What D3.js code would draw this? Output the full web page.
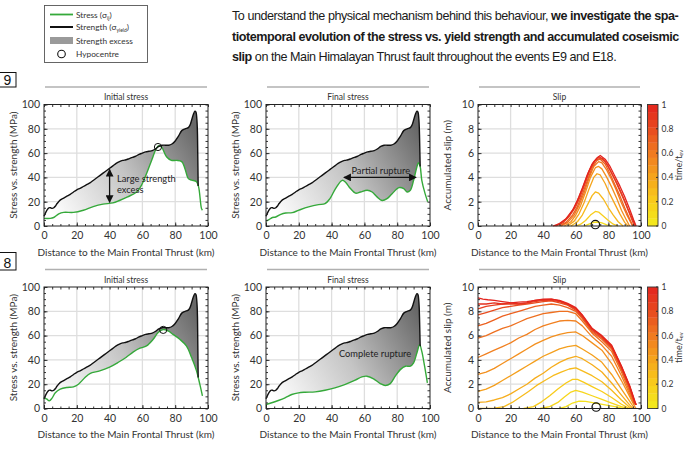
<!DOCTYPE html>
<html><head><meta charset="utf-8">
<script src="https://cdn.jsdelivr.net/npm/d3@7"></script>
<style>body{margin:0;background:#fff}svg{display:block}</style>
</head><body><svg id="c" width="685" height="456"></svg>
<script>
// ---------- DATA ----------
const xTicks = [0, 20, 40, 60, 80, 100];
const stressTicks = [0, 20, 40, 60, 80, 100];
const slipTicks = [0, 2, 4, 6, 8, 10];
const cbTicks = [0, 0.2, 0.4, 0.6, 0.8, 1];
// event tags: only their last character is visible inside the cropped reference figure
const eventTags = ["9", "8"];

const strengthX = [0,1,2,3,4,5,6,7,8,10,12,14,16,18,20,22,24,26,28,30,32,34,36,38,40,42,44,46,48,50,52,54,56,58,60,62,64,66,68,70,72,74,76,78,80,82,84,86,88,89,90,91,92,92.6,93.2,93.6];
const strengthY = [8,11,13.5,15,15,14.5,15,16.5,18.5,21.5,23,24.5,26,28,29.8,31,32.5,34,35.5,37.5,39.5,41.5,43.5,45.5,47.5,49.5,51.5,53,54,54.5,55.5,56.5,57.5,59,60,61,61.5,62,63.5,65.5,66.5,66.5,66.5,67.5,70,74,78.5,80,81,83,87,91.5,94.5,94,88,75];
const strengthDropX = 94;

const e9InitX  = [0,3.8,5.9,9,12,18,24,30,36,42,46,51,56.5,59.5,62.5,65.6,68.6,70,71.7,74.7,77.7,80.8,84,86,88,90,93,94.3,96,96.6];
const e9InitY  = [6.3,6.3,7,10,11.2,11.2,13,16,18,19,21,24,28,33.7,43,54,64,66,65,57,54,54,53,47,39,37.8,36.4,32,14.5,13];
const e9FinalX = [0,1.8,3.9,5.9,9,12,16,20,26,32,36,39,42.4,46.5,48.5,51.5,54.6,57.6,61.7,64.7,67.7,70.8,73.8,76.9,81,84,86,88,90,92,93,94,95,97,98.6];
const e9FinalY = [4,5.2,7,7.4,9.6,10.7,11,13,15.7,17.6,18.4,22.5,30.8,37.6,36,30.8,27,28,29.4,28,24,21,22.5,26.6,31.6,30.8,28,29.4,37.6,48.6,52,49,37.6,26.6,20];
const e18InitX = [0,1.8,3.2,4.9,6.9,9.9,14,18,21,25,28,34,40,45,50,54.5,58.5,62.5,66.6,69.6,72.7,75.7,78.7,82.8,86.8,90,93,95,96.6];
const e18InitY = [9,7.7,6.3,8.5,13,15.9,17.3,17.8,20,25.5,28.8,31,34,37.8,42,46.6,49.6,51.5,57,62.5,65,63.8,61,57,51.5,42,31,20,10.4];
const e18FinalX = [0,3.5,7.5,11.6,15.7,19.8,23.8,30,36,42,48,54.4,58.5,61.5,65.6,69.7,72.7,75.8,78.8,81.9,85,88,90,92,93.7,95,96.7,98.4];
const e18FinalY = [3.3,4.7,6.6,8.8,11.5,12.9,13.4,13.7,15,17,19.7,23.3,26,26.6,24.4,20.5,18.9,20.5,26.6,32,34.8,34.8,37.5,45.7,52.6,47,34.8,21];

const e9Hypo = [69.5, 65];
const e18Hypo = [72.7, 64.7];
const slipHypoX = [72, 72.5];

const e9SlipTimes = [0.1,0.2,0.3,0.4,0.5,0.6,0.7,0.8,0.9,1.0];
const e9SlipCurves = [
 [[65,0],[68,0.15],[71,0.3],[73,0.33],[76,0.25],[79,0.1],[82,0]],
 [[60,0],[63,0.15],[66,0.45],[69,0.9],[72,1.2],[74,1.15],[77,0.8],[80,0.45],[83,0.15],[86,0]],
 [[57,0],[61,0.35],[64,0.9],[67,1.7],[70,2.5],[72,2.8],[74,2.7],[77,2.2],[80,1.5],[83,0.9],[86,0.35],[89,0]],
 [[55,0],[59,0.4],[62,1.0],[65,1.9],[68,3.0],[71,4.0],[73,4.3],[75,4.2],[78,3.5],[81,2.6],[84,1.8],[87,1.0],[90,0.3],[92,0]],
 [[53,0],[57,0.35],[60,0.9],[63,1.7],[66,2.8],[69,4.0],[72,4.8],[74,4.9],[76,4.7],[79,4.0],[82,3.2],[85,2.3],[88,1.3],[91,0.5],[93,0]],
 [[51,0],[55,0.3],[59,0.9],[62,1.7],[65,2.7],[68,3.9],[71,4.9],[74,5.3],[76,5.2],[79,4.6],[82,3.8],[85,2.9],[88,1.9],[91,1.0],[94,0.2],[95,0]],
 [[50,0],[54,0.3],[58,0.9],[61,1.6],[64,2.6],[67,3.7],[70,4.8],[73,5.4],[75,5.5],[78,5.1],[81,4.3],[84,3.4],[87,2.5],[90,1.5],[93,0.6],[95,0]],
 [[48,0],[52,0.25],[56,0.8],[60,1.6],[63,2.5],[66,3.6],[69,4.7],[72,5.4],[75,5.6],[78,5.3],[81,4.6],[84,3.8],[87,2.9],[90,2.0],[93,1.0],[95,0.3],[96,0]],
 [[47,0],[51,0.25],[55,0.7],[59,1.5],[62,2.4],[65,3.4],[68,4.5],[71,5.3],[74,5.7],[77,5.5],[80,4.9],[83,4.1],[86,3.3],[89,2.4],[92,1.4],[95,0.5],[96.5,0]],
 [[46,0],[50,0.2],[54,0.6],[58,1.3],[61,2.1],[64,3.1],[67,4.2],[70,5.1],[73,5.6],[75,5.8],[78,5.5],[81,4.9],[84,4.1],[87,3.3],[90,2.4],[93,1.4],[95.5,0.5],[97,0]]
];

const e18SlipTimes = [0.07,0.14,0.21,0.29,0.36,0.43,0.5,0.57,0.64,0.71,0.79,0.86,0.93,1.0];
const e18SlipCurves = [
 [[50,0],[54,0.15],[58,0.45],[62,0.6],[66,0.58],[72,0.45],[78,0.3],[84,0.15],[89,0]],
 [[38,0],[44,0.15],[49,0.5],[53,0.95],[57,1.35],[60,1.5],[64,1.35],[70,1.05],[76,0.75],[82,0.45],[88,0.15],[92,0]],
 [[28,0],[34,0.15],[39,0.55],[44,1.05],[49,1.6],[54,2.1],[58,2.4],[61,2.4],[65,2.15],[70,1.8],[76,1.4],[82,0.9],[88,0.35],[93,0]],
 [[0,0],[10,0.03],[16,0.15],[21,0.5],[26,0.95],[31,1.4],[36,1.9],[41,2.3],[46,2.7],[51,3.0],[56,3.25],[60,3.35],[64,3.1],[70,2.7],[76,2.2],[82,1.5],[88,0.7],[93,0.1],[94,0]],
 [[0,0.5],[5,0.55],[10,0.7],[15,0.9],[20,1.2],[25,1.6],[30,2.0],[35,2.5],[40,2.9],[45,3.4],[50,3.8],[55,4.1],[60,4.3],[64,4.1],[70,3.6],[76,3.0],[82,2.1],[88,1.1],[93,0.3],[95,0]],
 [[0,1.4],[5,1.6],[10,1.9],[15,2.3],[20,2.7],[25,3.1],[30,3.5],[35,3.9],[40,4.3],[45,4.6],[50,4.9],[55,5.1],[60,5.2],[64,4.9],[70,4.4],[76,3.8],[82,2.8],[88,1.6],[93,0.6],[96,0]],
 [[0,2.8],[5,3.0],[10,3.3],[15,3.7],[20,4.1],[25,4.5],[30,4.9],[35,5.3],[40,5.6],[45,5.9],[50,6.1],[55,6.25],[60,6.3],[64,6.0],[70,5.4],[76,4.8],[82,3.7],[88,2.3],[93,1.0],[96,0.2],[97,0]],
 [[0,4.2],[5,4.5],[10,4.8],[15,5.1],[20,5.4],[25,5.8],[30,6.1],[35,6.5],[40,6.8],[45,7.0],[50,7.2],[55,7.25],[60,7.2],[64,6.8],[70,5.9],[76,5.2],[82,4.3],[88,2.7],[93,1.2],[96,0.3]],
 [[0,5.8],[5,6.0],[10,6.3],[15,6.6],[20,6.8],[25,7.1],[30,7.4],[35,7.6],[40,7.8],[45,7.9],[50,8.0],[55,8.0],[60,7.8],[64,7.2],[70,6.2],[76,5.5],[82,4.7],[88,3.0],[93,1.4],[96,0.4]],
 [[0,6.8],[5,7.0],[10,7.3],[15,7.6],[20,7.8],[25,8.0],[30,8.2],[35,8.4],[40,8.5],[45,8.6],[50,8.5],[55,8.3],[60,8.0],[64,7.4],[70,6.3],[76,5.7],[82,4.9],[88,3.2],[93,1.6],[96,0.5],[97,0.3]],
 [[0,7.7],[5,7.9],[10,8.1],[15,8.3],[20,8.4],[25,8.5],[30,8.6],[35,8.7],[40,8.8],[45,8.85],[50,8.7],[55,8.5],[60,8.1],[64,7.5],[70,6.4],[76,5.8],[82,5.0],[88,3.3],[93,1.7],[96,0.5],[97,0.3]],
 [[0,8.2],[5,8.4],[10,8.5],[15,8.6],[20,8.6],[25,8.6],[30,8.7],[35,8.8],[40,8.9],[45,8.9],[50,8.8],[55,8.55],[60,8.2],[64,7.6],[70,6.5],[76,5.9],[82,5.1],[88,3.4],[93,1.8],[96,0.6],[97,0.3]],
 [[0,8.6],[5,8.6],[10,8.7],[15,8.6],[20,8.7],[25,8.6],[30,8.7],[35,8.9],[40,8.95],[45,9.0],[50,8.85],[55,8.6],[60,8.25],[64,7.65],[70,6.55],[76,5.95],[82,5.15],[88,3.45],[93,1.85],[96,0.6],[97,0.3]],
 [[0,9.1],[3,9.0],[6,8.95],[10,8.9],[15,8.8],[20,8.7],[25,8.75],[30,8.8],[35,8.9],[40,9.0],[45,9.0],[50,8.9],[55,8.65],[60,8.3],[64,7.7],[70,6.6],[76,6.0],[82,5.2],[88,3.5],[93,1.9],[96,0.7],[97,0.3]]
];

const timeColors = ["#f3ec1c","#f8cd1b","#f5a51d","#f07a20","#e84a1f","#e3241e"];

// ---------- LAYOUT ----------
const svg = d3.select("#c");
const COLS = [{x0:44,x1:208},{x0:266,x1:430},{x0:478,x1:641}];
const ROWS = [{y0:104.5,y1:226},{y0:287,y1:408.5}];
const AX_FONT = "Lato, 'Open Sans', sans-serif";
const GREEN = "#35a93a";
const colorT = d3.scaleLinear().domain(cbTicks).range(timeColors);

const defs = svg.append("defs");
const interp = (xs, ys, x) => {
  for (let i = 1; i < xs.length; i++) if (xs[i] >= x) {
    const t = (x - xs[i-1]) / (xs[i] - xs[i-1]); return ys[i-1] + t*(ys[i]-ys[i-1]);
  }
  return ys[ys.length-1];
};

function frame(g, c, r, yMax, yTicksArr) {
  const x = d3.scaleLinear([0,100],[c.x0,c.x1]);
  const y = d3.scaleLinear([0,yMax],[r.y1,r.y0]);
  const gg = g.append("g");
  [20,40,60,80].forEach(v => gg.append("line").attr("x1",x(v)).attr("x2",x(v)).attr("y1",r.y0).attr("y2",r.y1)
     .attr("stroke","#dedede").attr("stroke-width",1.3));
  yTicksArr.slice(1,-1).forEach(v => gg.append("line").attr("x1",c.x0).attr("x2",c.x1).attr("y1",y(v)).attr("y2",y(v))
     .attr("stroke","#dedede").attr("stroke-width",1.3));
  return {x,y};
}

function axes(g, c, r, x, y, yTicksArr, minorY, ylabel) {
  const minorX = d3.range(0, 101, 5);
  const ax = g.append("g").attr("font-family", AX_FONT);
  const styleAx = s => { s.select(".domain").remove(); s.selectAll("line").attr("stroke","#333"); s.selectAll("text").attr("fill","#333").attr("font-size",10.5).attr("font-family",AX_FONT); };
  ax.append("g").attr("transform",`translate(0,${r.y1})`).call(d3.axisBottom(x).tickValues(xTicks).tickSize(-3.5).tickPadding(6)).call(styleAx);
  ax.append("g").attr("transform",`translate(0,${r.y1})`).call(d3.axisBottom(x).tickValues(minorX).tickSize(-2).tickFormat("")).call(styleAx);
  ax.append("g").attr("transform",`translate(0,${r.y0})`).call(d3.axisTop(x).tickValues(minorX).tickSize(-2.5).tickFormat("")).call(styleAx);
  ax.append("g").attr("transform",`translate(${c.x0},0)`).call(d3.axisLeft(y).tickValues(yTicksArr).tickSize(-3.5).tickPadding(4)).call(styleAx);
  ax.append("g").attr("transform",`translate(${c.x0},0)`).call(d3.axisLeft(y).tickValues(minorY).tickSize(-2).tickFormat("")).call(styleAx);
  ax.append("g").attr("transform",`translate(${c.x1},0)`).call(d3.axisRight(y).tickValues(minorY).tickSize(-2.5).tickFormat("")).call(styleAx);
  g.append("rect").attr("x",c.x0).attr("y",r.y0).attr("width",c.x1-c.x0).attr("height",r.y1-r.y0)
    .attr("fill","none").attr("stroke","#222").attr("stroke-width",1);
  g.append("text").attr("x",(c.x0+c.x1)/2).attr("y",r.y1+29.5).attr("text-anchor","middle")
    .attr("font-family",AX_FONT).attr("font-size",10).attr("fill","#333").text("Distance to the Main Frontal Thrust (km)");
  g.append("text").attr("transform",`translate(${c.x0-27},${(r.y0+r.y1)/2}) rotate(-90)`).attr("text-anchor","middle")
    .attr("font-family",AX_FONT).attr("font-size",10).attr("fill","#333").text(ylabel);
}

function panelTitle(g, c, r, t) {
  g.append("line").attr("x1",c.x0+1).attr("x2",c.x1-1).attr("y1",r.y0-17.5).attr("y2",r.y0-17.5).attr("stroke","#b0b0b0").attr("stroke-width",1.5);
  g.append("text").attr("x",(c.x0+c.x1)/2).attr("y",r.y0-4.5).attr("text-anchor","middle")
    .attr("font-family",AX_FONT).attr("font-size",8.5).attr("fill","#333").text(t);
}

function stressPanel(ci, ri, sx, sy, title, hypo) {
  const c = COLS[ci], r = ROWS[ri];
  const g = svg.append("g");
  const {x,y} = frame(g, c, r, 100, stressTicks);
  const gid = `grad${ci}${ri}`;
  const gr = defs.append("linearGradient").attr("id",gid).attr("gradientUnits","userSpaceOnUse")
    .attr("x1",x(5)).attr("y1",y(10)).attr("x2",x(92)).attr("y2",y(80));
  gr.append("stop").attr("offset",0).attr("stop-color","#ffffff");
  gr.append("stop").attr("offset",0.5).attr("stop-color","#c4c4c4");
  gr.append("stop").attr("offset",1).attr("stop-color","#686868");
  const line = d3.line().x(d=>x(d[0])).y(d=>y(d[1])).curve(d3.curveCatmullRom);
  const strengthPts = strengthX.map((v,i)=>[v,strengthY[i]]);
  const dropVal = interp(sx, sy, strengthDropX);
  const stressPts = sx.map((v,i)=>[v,sy[i]]);
  const lowerPts = stressPts.filter(d=>d[0] < strengthDropX).concat([[strengthDropX, dropVal]]).reverse();
  const upper = line(strengthPts) + `L${x(strengthDropX)},${y(dropVal)}`;
  const lower = line(lowerPts).replace(/^M/,"L");
  g.append("path").attr("d", upper + lower + "Z").attr("fill",`url(#${gid})`);
  g.append("path").attr("d", line(stressPts)).attr("fill","none").attr("stroke",GREEN).attr("stroke-width",1.4);
  g.append("path").attr("d", upper).attr("fill","none").attr("stroke","#111").attr("stroke-width",1.4);
  if (hypo) g.append("circle").attr("cx",x(hypo[0])).attr("cy",y(hypo[1])).attr("r",3.6).attr("fill","none").attr("stroke","#111").attr("stroke-width",1);
  axes(g, c, r, x, y, stressTicks, d3.range(0,101,5), "Stress vs. strength (MPa)");
  panelTitle(g, c, r, title);
  return {g,x,y};
}

const mk = (id, orient) => {
  defs.append("marker").attr("id",id).attr("viewBox","0 0 10 10").attr("refX",9).attr("refY",5)
    .attr("markerWidth",6).attr("markerHeight",6).attr("orient",orient)
    .append("path").attr("d","M0,0L10,5L0,10Z").attr("fill","#111");
};
mk("arrE","auto"); mk("arrS","auto-start-reverse");

const p1 = stressPanel(0,0,e9InitX,e9InitY,"Initial stress",e9Hypo);
p1.g.append("line").attr("x1",p1.x(40)).attr("x2",p1.x(40)).attr("y1",p1.y(46.5)).attr("y2",p1.y(19.5))
  .attr("stroke","#111").attr("stroke-width",1.3).attr("marker-start","url(#arrS)").attr("marker-end","url(#arrE)");
p1.g.append("text").attr("x",p1.x(44.5)).attr("y",p1.y(36)).attr("font-family",AX_FONT).attr("font-size",9.3).attr("fill","#222")
  .selectAll("tspan").data(["Large strength","excess"]).join("tspan").attr("x",p1.x(44.5)).attr("dy",(d,i)=>i?10.5:0).text(d=>d);

const p2 = stressPanel(1,0,e9FinalX,e9FinalY,"Final stress",null);
p2.g.append("line").attr("x1",p2.x(47.5)).attr("x2",p2.x(91.5)).attr("y1",p2.y(40)).attr("y2",p2.y(40))
  .attr("stroke","#111").attr("stroke-width",1.3).attr("marker-start","url(#arrS)").attr("marker-end","url(#arrE)");
p2.g.append("text").attr("x",p2.x(70)).attr("y",p2.y(43)).attr("text-anchor","middle").attr("font-family",AX_FONT).attr("font-size",9.3).attr("fill","#222").text("Partial rupture");

stressPanel(0,1,e18InitX,e18InitY,"Initial stress",e18Hypo);
const p5 = stressPanel(1,1,e18FinalX,e18FinalY,"Final stress",null);
p5.g.append("text").attr("x",p5.x(66.5)).attr("y",p5.y(42)).attr("text-anchor","middle").attr("font-family",AX_FONT).attr("font-size",9.3).attr("fill","#222").text("Complete rupture");

function slipPanel(ri, curves, times, hx) {
  const c = COLS[2], r = ROWS[ri];
  const g = svg.append("g");
  const {x,y} = frame(g, c, r, 10, slipTicks);
  const line = d3.line().x(d=>x(d[0])).y(d=>y(d[1]));
  g.append("g").selectAll("path").data(curves).join("path").attr("d",line).attr("fill","none")
    .attr("stroke",(d,i)=>colorT(times[i])).attr("stroke-width",1.3).attr("stroke-linejoin","round");
  g.append("circle").attr("cx",x(hx)).attr("cy",y(0.12)).attr("r",4.2).attr("fill","none").attr("stroke","#111").attr("stroke-width",1.2);
  axes(g, c, r, x, y, slipTicks, d3.range(0,10.01,0.5), "Accumulated slip (m)");
  panelTitle(g, c, r, "Slip");
  const cb = g.append("g");
  const cy = d3.scaleLinear([0,1],[r.y1, r.y0]);
  const nb = 16, cbx = 647.5, cbw = 10.5;
  cb.selectAll("rect.b").data(d3.range(nb)).join("rect").attr("x",cbx).attr("width",cbw)
    .attr("y",i=>cy((i+1)/nb)).attr("height",i=>cy(i/nb)-cy((i+1)/nb)+0.3).attr("fill",i=>colorT((i+0.5)/nb));
  cb.append("rect").attr("x",cbx).attr("y",r.y0).attr("width",cbw).attr("height",r.y1-r.y0).attr("fill","none").attr("stroke","#333").attr("stroke-width",0.9);
  cb.selectAll("text.t").data(cbTicks).join("text").attr("x",cbx+cbw+3.5).attr("y",d=>cy(d)+3)
    .attr("font-family",AX_FONT).attr("font-size",8.5).attr("fill","#333").text(d=>d===0||d===1?d:d.toFixed(1));
  cb.selectAll("line.t").data(cbTicks).join("line").attr("x1",cbx+cbw-2).attr("x2",cbx+cbw).attr("y1",d=>cy(d)).attr("y2",d=>cy(d)).attr("stroke","#333");
  const lab = cb.append("text").attr("transform",`translate(681.5,${(r.y0+r.y1)/2}) rotate(-90)`).attr("text-anchor","middle")
    .attr("font-family",AX_FONT).attr("font-size",9).attr("fill","#333");
  lab.append("tspan").text("time/t");
  lab.append("tspan").attr("font-size",5.5).attr("dy",1.5).text("ev");
}
slipPanel(0, e9SlipCurves, e9SlipTimes, slipHypoX[0]);
slipPanel(1, e18SlipCurves, e18SlipTimes, slipHypoX[1]);

// ---------- event tags (cropped boxes at the left edge) ----------
[[eventTags[0],72.5,87],[eventTags[1],252.5,270]].forEach(([t,y0,y1]) => {
  svg.append("rect").attr("x",-30).attr("y",y0).attr("width",46).attr("height",y1-y0).attr("fill","#fff").attr("stroke","#111").attr("stroke-width",1);
  svg.append("text").attr("x",7.5).attr("y",y1-2.5).attr("text-anchor","middle").attr("font-family","'Liberation Sans', Arial, sans-serif").attr("font-size",14).attr("fill","#111").text(t);
});

// ---------- legend ----------
const lg = svg.append("g").attr("font-family",AX_FONT).attr("font-size",8.3).attr("fill","#333");
lg.append("rect").attr("x",44.5).attr("y",5.5).attr("width",103).attr("height",57).attr("fill","#fff").attr("stroke","#555").attr("stroke-width",0.9);
lg.append("line").attr("x1",50).attr("x2",73).attr("y1",14.5).attr("y2",14.5).attr("stroke",GREEN).attr("stroke-width",1.8);
lg.append("line").attr("x1",50).attr("x2",73).attr("y1",27).attr("y2",27).attr("stroke","#111").attr("stroke-width",2);
lg.append("rect").attr("x",50).attr("y",37).attr("width",23).attr("height",7).attr("fill","#9a9a9a");
lg.append("circle").attr("cx",61.5).attr("cy",54).attr("r",3.8).attr("fill","none").attr("stroke","#111").attr("stroke-width",1.1);
const t1 = lg.append("text").attr("x",76).attr("y",17.5); t1.append("tspan").text("Stress (σ"); t1.append("tspan").attr("font-size",5).attr("dy",2).text("ij"); t1.append("tspan").attr("dy",-2).text(")");
const t2 = lg.append("text").attr("x",76).attr("y",30); t2.append("tspan").text("Strength (σ"); t2.append("tspan").attr("font-size",5).attr("dy",2).text("yield"); t2.append("tspan").attr("dy",-2).text(")");
lg.append("text").attr("x",76).attr("y",44).text("Strength excess");
lg.append("text").attr("x",76).attr("y",57).text("Hypocentre");

// ---------- paragraph ----------
const para = [
  [["To understand the physical mechanism behind this behaviour, ",false],["we investigate the spa-",true]],
  [["tiotemporal evolution of the stress vs. yield strength and accumulated coseismic",true]],
  [["slip",true],[" on the Main Himalayan Thrust fault throughout the events E9 and E18.",false]]
];
const paraWidths = [447, 446];
const pg = svg.append("g").attr("font-family","'Liberation Sans', Arial, sans-serif").attr("font-size",12.6).attr("fill","#1a1a1a");
const texts = para.map((ln,i) => {
  const t = pg.append("text").attr("x",232).attr("y",20 + i*20.5);
  ln.forEach(([s,b]) => t.append("tspan").attr("font-weight",b?"bold":"normal").text(s));
  return t;
});
const sp = d3.mean([0,1], i => (paraWidths[i] - texts[i].node().getComputedTextLength()) / para[i].map(d=>d[0]).join("").length);
texts.forEach(t => t.attr("letter-spacing", sp.toFixed(3)));
</script></body></html>
